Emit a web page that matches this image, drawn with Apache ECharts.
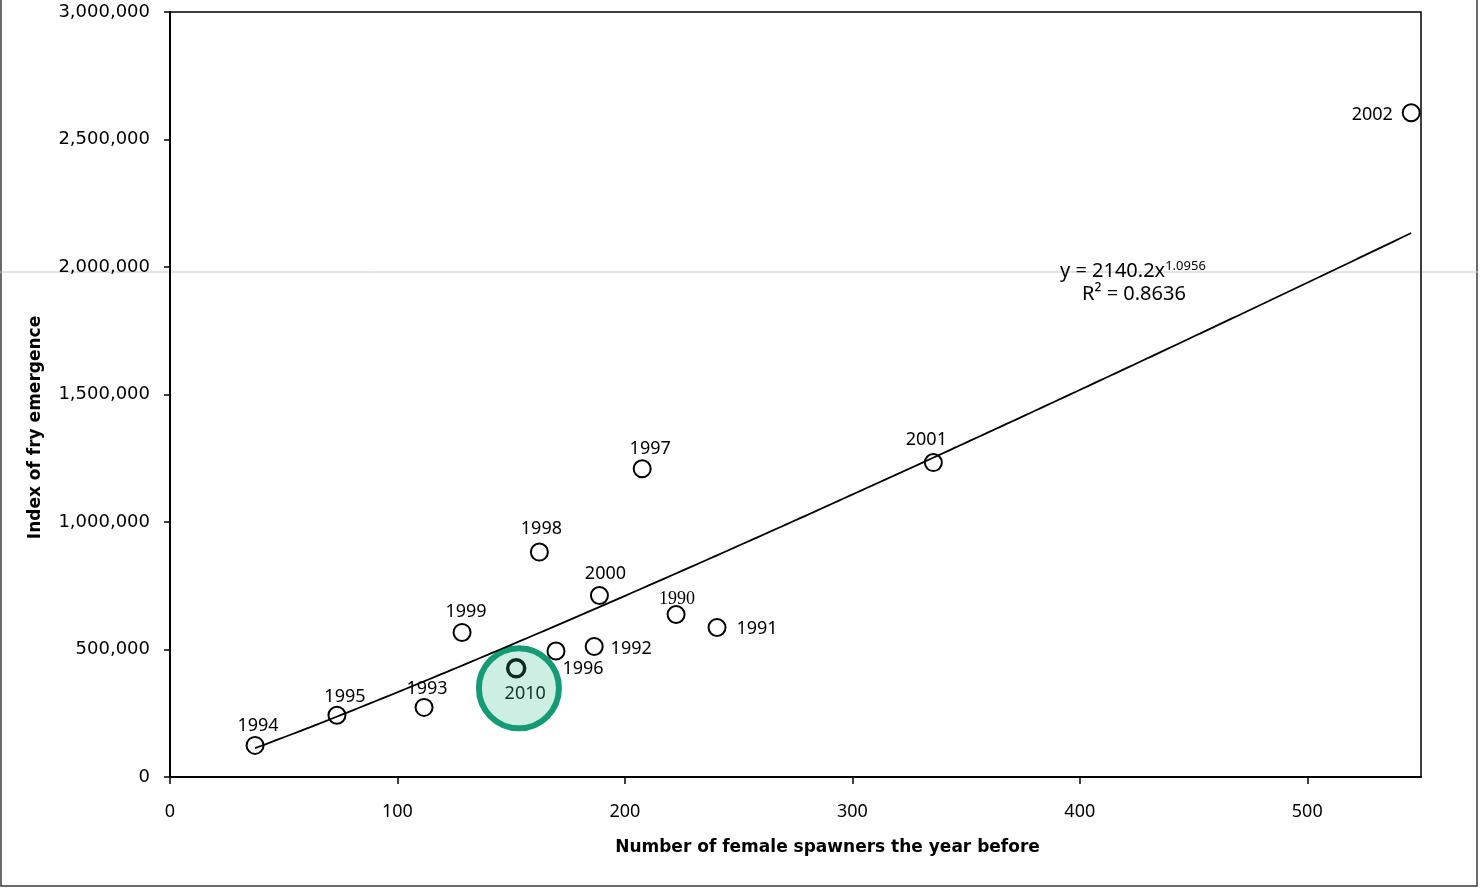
<!DOCTYPE html>
<html>
<head>
<meta charset="utf-8">
<script src="https://cdn.jsdelivr.net/npm/echarts@6/dist/echarts.min.js"></script>
<style>
  html, body { margin: 0; padding: 0; background: #fff; }
  #chart { width: 1480px; height: 890px; }
</style>
</head>
<body>
<div id="chart"></div>
<script>
// Spawner / fry-emergence observations by year
const years    = [1990, 1991, 1992, 1993, 1994, 1995, 1996, 1997, 1998, 1999, 2000, 2001, 2002, 2010];
const spawners = [222.5, 240.5, 186.5, 111.7, 37.4, 73.4, 169.7, 207.6, 162.4, 128.4, 188.8, 335.6, 545.7, 152.2];
const fry      = [637000, 586000, 512000, 273000, 124000, 242000, 494000, 1209000, 882000, 567000, 712000, 1233000, 2605000, 426000];

// Power trendline y = a * x^b and its fit quality
const trendA = 2140.2;
const trendB = 1.0956;
const trendR2 = 0.8636;

// Highlighted year and the centre of its ring
const highlightYear = 2010;
const highlightCentre = [153.4, 348000];

// Axis ranges and tick positions
const xRange = { min: 0, max: 550 };
const xTickValues = [0, 100, 200, 300, 400, 500];
const yTicks = { min: 0, max: 3000000, interval: 500000 };

// Label placement around each marker (pixel offsets from the marker centre)
const labelPlacement = {
  1990: [1, -15], 1991: [40, 1], 1992: [37, 2], 1993: [3, -19],
  1994: [3, -20], 1995: [8, -18], 1996: [27, 18], 1997: [8, -20],
  1998: [2, -23], 1999: [4, -21], 2000: [6, -22], 2001: [-7, -23],
  2002: [-39, 2], 2010: [9, 26]
};

const pointData = years.map((yr, i) => {
  const item = {
    value: [spawners[i], fry[i]],
    name: String(yr),
    label: { offset: labelPlacement[yr] }
  };
  if (yr === 1990) {
    item.label.fontFamily = '"Liberation Serif", serif';
  }
  if (yr === highlightYear) {
    item.itemStyle = { borderColor: '#0f2a20', borderWidth: 3.5, opacity: 1 };
    item.label.color = '#14302a';
  }
  return item;
});

// Trendline sampled across the observed spawner range
const xLo = Math.min(...spawners), xHi = Math.max(...spawners);
const trendData = [];
const steps = 200;
for (let k = 0; k <= steps; k++) {
  const x = xLo + (xHi - xLo) * k / steps;
  trendData.push([x, trendA * Math.pow(x, trendB)]);
}

const chart = echarts.init(document.getElementById('chart'), null, { renderer: 'canvas' });

const labelFont = '"Noto Sans", "Open Sans", sans-serif';
const titleFont = '"DejaVu Sans", sans-serif';

chart.setOption({
  backgroundColor: '#ffffff',
  animation: false,
  grid: {
    left: 170, right: 59, top: 12, bottom: 113,
    show: true, borderColor: '#000', borderWidth: 1.5, backgroundColor: 'transparent'
  },
  xAxis: {
    type: 'value',
    min: xRange.min, max: xRange.max,
    name: 'Number of female spawners the year before',
    nameLocation: 'middle',
    nameGap: 62,
    nameTextStyle: {
      fontFamily: titleFont, fontWeight: 'bold', fontSize: 17, color: '#000',
      padding: [0, 0, 0, 64]
    },
    axisLine: { show: true, onZero: false, lineStyle: { color: '#000', width: 2 } },
    axisTick: { show: true, length: 7, customValues: xTickValues, lineStyle: { color: '#000', width: 1.5 } },
    axisLabel: {
      margin: 26, fontFamily: labelFont, fontSize: 18, color: '#000',
      customValues: xTickValues
    },
    splitLine: { show: false }
  },
  yAxis: {
    type: 'value',
    min: yTicks.min, max: yTicks.max, interval: yTicks.interval,
    name: 'Index of fry emergence',
    nameLocation: 'middle',
    nameGap: 126,
    nameTextStyle: {
      fontFamily: titleFont, fontWeight: 'bold', fontSize: 17, color: '#000',
      padding: [0, 66, 0, 0]
    },
    axisLine: { show: true, onZero: false, lineStyle: { color: '#000', width: 2 } },
    axisTick: { show: true, length: 6, lineStyle: { color: '#000', width: 1.5 } },
    axisLabel: {
      margin: 20, fontFamily: titleFont, fontSize: 18, color: '#000',
      formatter: v => v.toLocaleString('en-US')
    },
    splitLine: { show: false }
  },
  series: [
    {
      name: 'highlight',
      type: 'scatter',
      z: 1,
      symbol: 'circle',
      symbolSize: 80,
      silent: true,
      itemStyle: { color: '#cdeee2', borderColor: '#149a74', borderWidth: 6, opacity: 1 },
      data: [highlightCentre]
    },
    {
      name: 'trend',
      type: 'line',
      z: 2,
      showSymbol: false,
      smooth: false,
      lineStyle: { color: '#000', width: 1.8 },
      data: trendData
    },
    {
      name: 'observed',
      type: 'scatter',
      z: 3,
      symbol: 'circle',
      symbolSize: 17,
      itemStyle: { color: 'rgba(255,255,255,0)', borderColor: '#000', borderWidth: 2, opacity: 1 },
      label: {
        show: true,
        position: 'inside',
        formatter: p => p.name,
        fontFamily: labelFont,
        fontSize: 18,
        color: '#000',
        align: 'center',
        verticalAlign: 'middle'
      },
      data: pointData
    }
  ],
  graphic: [
    {
      type: 'rect', z: -10, silent: true,
      shape: { x: 1, y: -10, width: 1476, height: 896 },
      style: { fill: null, stroke: '#3a3a3a', lineWidth: 1.5 }
    },
    {
      type: 'line', z: -5, silent: true,
      shape: { x1: 0, y1: 272, x2: 1478, y2: 272 },
      style: { stroke: '#c8c8c8', lineWidth: 1 }
    },
    {
      type: 'text', z: 10, silent: true,
      left: 1060, top: 260,
      style: {
        text: '{a|y = ' + trendA + 'x}{s|' + trendB + '}',
        rich: {
          a: { fontFamily: labelFont, fontSize: 20, color: '#000', lineHeight: 23 },
          s: { fontFamily: labelFont, fontSize: 13, color: '#000', verticalAlign: 'top', lineHeight: 23 }
        }
      }
    },
    {
      type: 'text', z: 10, silent: true,
      left: 1082, top: 284,
      style: {
        text: 'R\u00b2 = ' + trendR2,
        fontFamily: labelFont, fontSize: 20, fill: '#000'
      }
    }
  ]
});
</script>
</body>
</html>
